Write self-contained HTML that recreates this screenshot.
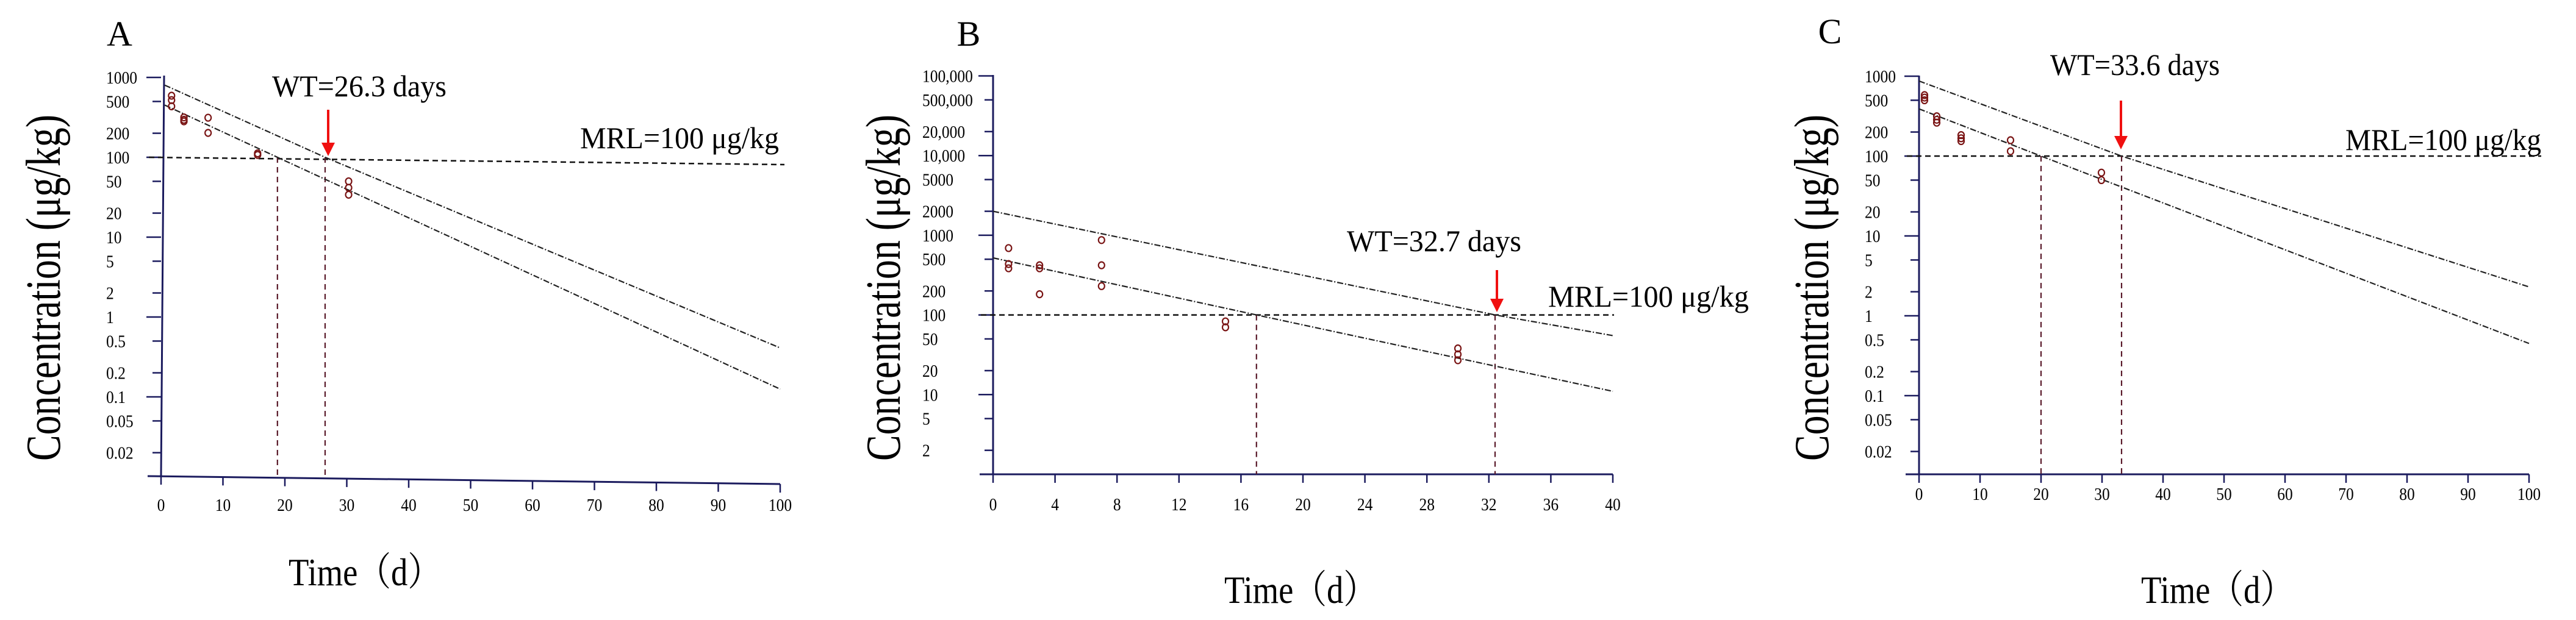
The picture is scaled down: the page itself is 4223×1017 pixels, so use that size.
<!DOCTYPE html>
<html><head><meta charset="utf-8">
<style>
html,body{margin:0;padding:0;background:#fff;}
svg{display:block;}
text{font-family:"Liberation Serif","Noto Serif CJK SC",serif;fill:#000;}
</style></head>
<body>
<svg id="fig" width="4223" height="1017" viewBox="0 0 4223 1017" xmlns="http://www.w3.org/2000/svg">
<rect width="4223" height="1017" fill="#fff"/>
</svg>
<script>
// ---- Panel A data ----
const aXTicks = [0,10,20,30,40,50,60,70,80,90,100];
const aYTicks = [1000,500,200,100,50,20,10,5,2,1,0.5,0.2,0.1,0.05,0.02];
const aYTickLabels = ["1000","500","200","100","50","20","10","5","2","1","0.5","0.2","0.1","0.05","0.02"];
const aUpper = [[0.6,800],[26.5,100],[100,0.41]];
const aLower = [[0.6,450],[18.8,100],[100,0.125]];
const aDays = [1.7,1.7,1.7,3.7,3.7,3.7,7.6,7.6,15.6,15.6,30.3,30.3,30.3];
const aConc = [590,520,435,316,295,282,313,202,112,107,50,41.5,34];
const aWT = 26.3, aWTLine = 26.5, aLowLine = 18.8;
// ---- Panel B data ----
const bXTicks = [0,4,8,12,16,20,24,28,32,36,40];
const bYTicks = [100000,50000,20000,10000,5000,2000,1000,500,200,100,50,20,10,5,2];
const bYTickLabels = ["100,000","500,000","20,000","10,000","5000","2000","1000","500","200","100","50","20","10","5","2"];
const bUpper = [[0,2000],[32.4,100],[40,55]];
const bLower = [[0,520],[17,100],[40,11]];
const bDays = [1,1,1,3,3,3,7,7,7,15,15,30,30,30];
const bConc = [690,435,385,420,385,182,870,420,230,83,70,38,32,27];
const bWT = 32.7, bWTLine = 32.4, bLowLine = 17;
// ---- Panel C data ----
const cXTicks = [0,10,20,30,40,50,60,70,80,90,100];
const cYTicks = [1000,500,200,100,50,20,10,5,2,1,0.5,0.2,0.1,0.05,0.02];
const cYTickLabels = ["1000","500","200","100","50","20","10","5","2","1","0.5","0.2","0.1","0.05","0.02"];
const cUpper = [[0,870],[33.2,100],[100,2.3]];
const cLower = [[0,390],[20,100],[100,0.45]];
const cDays = [0.9,0.9,0.9,2.9,2.9,2.9,6.9,6.9,6.9,15,15,29.9,29.9];
const cConc = [580,540,500,315,285,262,183,167,154,158,115,62,50];
const cWT = 33.6, cWTLine = 33.2, cLowLine = 20;
const mrl = 100;

const NS = "http://www.w3.org/2000/svg";
const svg = document.getElementById('fig');
function mk(tag, attrs, parent){
  const e = document.createElementNS(NS, tag);
  for (const k in attrs) e.setAttribute(k, attrs[k]);
  (parent||svg).appendChild(e);
  return e;
}

function panel(p){
  const g = mk('g', {});
  
  
  const lx = v => Math.log10(v);
  const yS = (v) => p.y0 + (p.logTop - lx(v)) * p.dec;
  const xS = d => p.x0 + (d - p.xmin) / (p.xmax - p.xmin) * (p.x1 - p.x0);

  const ya = mk('line', {x1:p.x0+p.yTilt, y1:p.yTop, x2:p.x0, y2:p.yBot, stroke:'#1b1b5e','stroke-width':3}, g);
  
  
  const xa = mk('line', {x1:p.x0-22, y1:p.yBot, x2:p.x1, y2:p.yBot+p.xTilt, stroke:'#1b1b5e','stroke-width':3}, g);
  
  

  p.yTicks.forEach((v,i)=>{
    const y = yS(v);
    const len = (String(Math.abs(Math.log10(v))%1).length<3 ? 24 : 14);
    mk('line',{x1:p.x0-len,y1:y,x2:p.x0,y2:y,stroke:'#1b1b5e','stroke-width':2.5},g);
    const t = mk('text',{x:0,y:0,'font-size':29,transform:`translate(${p.labX},${y+10}) scale(0.88,1)`},g);
    t.textContent = p.yLabels[i];
    
    
  });
  p.xTicks.forEach((d,i)=>{
    const x = xS(d);
    const yb = p.yBot + p.xTilt * (x - p.x0) / (p.x1 - p.x0);
    mk('line',{x1:x,y1:yb,x2:x,y2:yb+14,stroke:'#1b1b5e','stroke-width':2.5},g);
    const t = mk('text',{x:0,y:0,'font-size':29,'text-anchor':'middle',transform:`translate(${x},${p.xLabY}) scale(0.88,1)`},g);
    t.textContent = String(d);
    
    
  });

  const m = mk('line',{x1:p.x0-20,y1:yS(mrl),x2:p.mrlEnd,y2:yS(mrl)+p.mrlSlant,stroke:'#111','stroke-width':2.5,'stroke-dasharray':'9,6'},g);
  
  

  [p.lowLine, p.wtLine].forEach((d,i)=>{
    const x = xS(d);
    const v = mk('line',{x1:x,y1:yS(mrl),x2:x,y2:p.yBot+p.xTilt*(x-p.x0)/(p.x1-p.x0),stroke:'#5a1a2a','stroke-width':2.2,'stroke-dasharray':'9,7'},g);
    
    
  });

  [p.upper, p.lower].forEach((arr,i)=>{
    const pts = arr.map(q=>xS(q[0]).toFixed(1)+','+yS(q[1]).toFixed(1)).join(' ');
    const l = mk('polyline',{points:pts,fill:'none',stroke:'#222','stroke-width':2.2,'stroke-dasharray':'10,3,2,3'},g);
    
    
  });

  p.days.forEach((d,i)=>{
    const c = mk('ellipse',{cx:xS(d),cy:yS(p.conc[i]),rx:5,ry:5.5,fill:'none',stroke:'#7a1515','stroke-width':2.2},g);
    
    
  });

  const ar = mk('g',{},g);
  
  
  mk('line',{x1:p.arrX,y1:p.arrY0,x2:p.arrX,y2:p.arrY1-14,stroke:'#f01010','stroke-width':4},ar);
  mk('polygon',{points:`${p.arrX-11},${p.arrY1-22} ${p.arrX+11},${p.arrY1-22} ${p.arrX},${p.arrY1}`,fill:'#f01010'},ar);

  const wt = mk('text',{x:p.wtX,y:p.wtY,'font-size':50,textLength:p.wtW,lengthAdjust:'spacingAndGlyphs'},g);
  wt.textContent = 'WT=' + p.wt.toFixed(1) + ' days';
  
  
  const mt = mk('text',{x:p.mrlX,y:p.mrlY,'font-size':50,textLength:p.mrlW,lengthAdjust:'spacingAndGlyphs'},g);
  mt.textContent = 'MRL=100 μg/kg';
  
  
  const pl = mk('text',{x:p.letX,y:p.letY,'font-size':58,'text-anchor':'middle'},g);
  pl.textContent = p.letter;
  
  
  const yt = mk('text',{x:0,y:0,'font-size':80,textLength:568,lengthAdjust:'spacingAndGlyphs','text-anchor':'middle',transform:`translate(${p.ylX},472) rotate(-90)`},g);
  yt.textContent = 'Concentration (μg/kg)';
  
  
  const xt = mk('text',{x:p.xlX,y:p.xlY,'font-size':64,textLength:250,lengthAdjust:'spacingAndGlyphs'},g);
  xt.textContent = 'Time（d）';
  
  
}

panel({id:'a',letter:'A',x0:264,x1:1279,xmin:0,xmax:100,y0:127,logTop:3,dec:131,yTop:124,yBot:781,yTilt:5,xTilt:13,
  labX:174,xLabY:838,xTicks:aXTicks,yTicks:aYTicks,yLabels:aYTickLabels,upper:aUpper,lower:aLower,days:aDays,conc:aConc,
  wt:aWT,wtLine:aWTLine,lowLine:aLowLine,mrlEnd:1286,mrlSlant:12,arrX:538,arrY0:180,arrY1:256,
  wtX:446,wtY:158,wtW:286,mrlX:951,mrlY:243,mrlW:326,letX:196,letY:75,ylX:98,xlX:473,xlY:960});
panel({id:'b',letter:'B',x0:1628,x1:2644,xmin:0,xmax:40,y0:124.5,logTop:5,dec:130.7,yTop:123,yBot:778,yTilt:0,xTilt:0,
  labX:1512,xLabY:837,xTicks:bXTicks,yTicks:bYTicks,yLabels:bYTickLabels,upper:bUpper,lower:bLower,days:bDays,conc:bConc,
  wt:bWT,wtLine:bWTLine,lowLine:bLowLine,mrlEnd:2646,mrlSlant:0,arrX:2454,arrY0:443,arrY1:512,
  wtX:2208,wtY:412,wtW:286,mrlX:2538,mrlY:503,mrlW:329,letX:1588,letY:75,ylX:1475,xlX:2007,xlY:989});
panel({id:'c',letter:'C',x0:3146,x1:4146,xmin:0,xmax:100,y0:125,logTop:3,dec:131,yTop:124,yBot:778,yTilt:0,xTilt:0,
  labX:3057,xLabY:820,xTicks:cXTicks,yTicks:cYTicks,yLabels:cYTickLabels,upper:cUpper,lower:cLower,days:cDays,conc:cConc,
  wt:cWT,wtLine:cWTLine,lowLine:cLowLine,mrlEnd:4166,mrlSlant:0,arrX:3477,arrY0:165,arrY1:245,
  wtX:3361,wtY:123,wtW:278,mrlX:3845,mrlY:246,mrlW:321,letX:3000,letY:71,ylX:2997,xlX:3510,xlY:989});
</script>
</body></html>
